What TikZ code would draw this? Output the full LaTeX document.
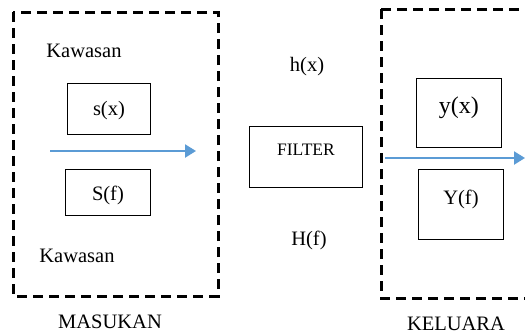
\documentclass[tikz,border=0pt]{standalone}
\usepackage{fontspec}
\setmainfont{Liberation Serif}
\usetikzlibrary{arrows.meta}
\definecolor{arrowblue}{HTML}{5B9BD5}
\tikzset{
  lbl/.style={inner sep=0pt, font=\fontsize{20.5}{24}\selectfont},
  sbox/.style={draw, line width=0.9pt, inner sep=0pt, anchor=north west, font=\fontsize{20.5}{24}\selectfont},
  dbox/.style={draw, line width=3pt, dash pattern=on 10pt off 6pt},
  flow/.style={draw=arrowblue, line width=2.2pt, -{Triangle[length=11pt,width=13pt]}}
}
\begin{document}
\begin{tikzpicture}[x=1pt,y=-1pt]
\useasboundingbox (0,0) rectangle (525,333);
\clip (0,0) rectangle (525,333);
% dashed regions
\draw[dbox] (13,12) rectangle (218,296);
\draw[dbox] (381,9) rectangle (545,298);
% left region
\node[lbl, anchor=base] (kaw1) at (84,57) {Kawasan};
\node[lbl, anchor=base] (kaw2) at (77,262) {Kawasan};
\node[sbox, minimum width=83pt, text height=32pt, text depth=19pt] (sx) at (67,83) {s(x)};
\node[sbox, minimum width=85pt, text height=31pt, text depth=15pt] (Sf) at (65,169) {S(f)};
\coordinate (a1) at (50,151);
\coordinate (a2) at (196,151);
\path[flow] (a1) -- (a2);
\node[lbl, anchor=base] (mas) at (110,328) {MASUKAN};
% middle
\node[lbl, anchor=base] (hx) at (307,71) {h(x)};
\node[sbox, minimum width=113pt, text height=29pt, text depth=32pt, font=\fontsize{17.5}{20}\selectfont] (filter) at (249,126) {FILTER};
\node[lbl, anchor=base] (Hf) at (309,245) {H(f)};
% right region
\node[sbox, minimum width=85pt, text height=35pt, text depth=34pt, font=\fontsize{24}{28}\selectfont] (yx) at (416,78) {y(x)};
\node[sbox, minimum width=85pt, text height=35pt, text depth=35pt] (Yf) at (418,169) {Y(f)};
\coordinate (b1) at (385,158);
\coordinate (b2) at (525,158);
\path[flow] (b1) -- (b2);
\node[lbl, anchor=base] (kel) at (456,330) {KELUARA};
\end{tikzpicture}
\end{document}
